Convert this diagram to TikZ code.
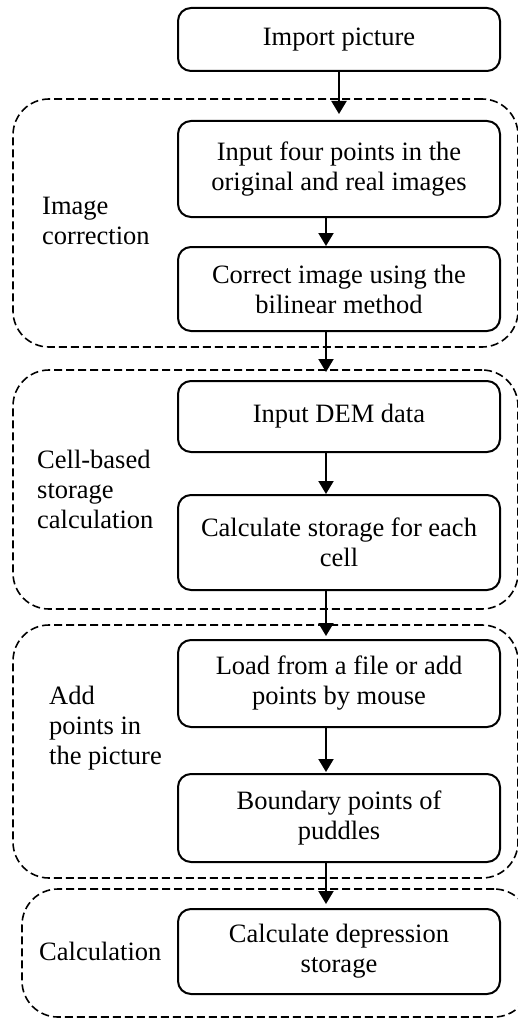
\documentclass[tikz,border=0pt]{standalone}
\usepackage{fontspec}
\setmainfont{Liberation Serif}
\usetikzlibrary{arrows.meta}
\begin{document}
\begin{tikzpicture}[x=1pt,y=-1pt,
  stepbox/.style={draw,line width=2pt,rounded corners=13pt,minimum width=322pt,align=center,inner sep=0pt,font=\fontsize{26.5}{30}\selectfont},
  group/.style={draw,line width=1.6pt,dash pattern=on 8pt off 4pt,rounded corners=36pt,inner sep=0pt},
  lbl/.style={anchor=west,align=left,inner sep=0pt,font=\fontsize{26.5}{30}\selectfont},
  arr/.style={line width=2pt,-{Triangle[length=13pt,width=15pt]}}]
\useasboundingbox (0,0) rectangle (518,1019);
\clip (0,0) rectangle (518,1019);
% groups
\node[group,minimum width=505pt,minimum height=248pt] (g1) at (265.5,223) {};
\node[group,minimum width=505pt,minimum height=239pt] (g2) at (265.5,489.5) {};
\node[group,minimum width=505pt,minimum height=253pt] (g3) at (265.5,751.5) {};
\node[group,minimum width=508pt,minimum height=128pt] (g4) at (276,953) {};
% steps
\node[stepbox,minimum height=63pt] (imp) at (339,39.5) {Import picture};
\node[stepbox,minimum height=96pt] (b1) at (339,169) {Input four points in the\\original and real images};
\node[stepbox,minimum height=84pt] (b2) at (339,289) {Correct image using the\\bilinear method};
\node[stepbox,minimum height=71pt] (b3) at (339,416.5) {Input DEM data};
\node[stepbox,minimum height=95pt] (b4) at (339,542.5) {Calculate storage for each\\cell};
\node[stepbox,minimum height=87pt] (b5) at (339,683.5) {Load from a file or add\\points by mouse};
\node[stepbox,minimum height=88pt] (b6) at (339,818) {Boundary points of\\puddles};
\node[stepbox,minimum height=85pt] (b7) at (339,951.5) {Calculate depression\\storage};
% labels
\node[lbl] (l1) at (42,221) {Image\\correction};
\node[lbl] (l2) at (37,489) {Cell-based\\storage\\calculation};
\node[lbl] (l3) at (49,728) {Add\\points in\\the picture};
\node[lbl] (l4) at (39,951) {Calculation};
% arrows
\draw[arr,shorten >=6pt] (imp.south) -- (b1.north);
\draw[arr] ([xshift=-13pt]b1.south) -- ([xshift=-13pt]b2.north);
\draw[arr,shorten >=8pt] ([xshift=-13pt]b2.south) -- ([xshift=-13pt]b3.north);
\draw[arr] ([xshift=-13pt]b3.south) -- ([xshift=-13pt]b4.north);
\draw[arr,shorten >=3pt] ([xshift=-13pt]b4.south) -- ([xshift=-13pt]b5.north);
\draw[arr,shorten >=1pt] ([xshift=-13pt]b5.south) -- ([xshift=-13pt]b6.north);
\draw[arr,shorten >=4pt] ([xshift=-13pt]b6.south) -- ([xshift=-13pt]b7.north);
\end{tikzpicture}
\end{document}
